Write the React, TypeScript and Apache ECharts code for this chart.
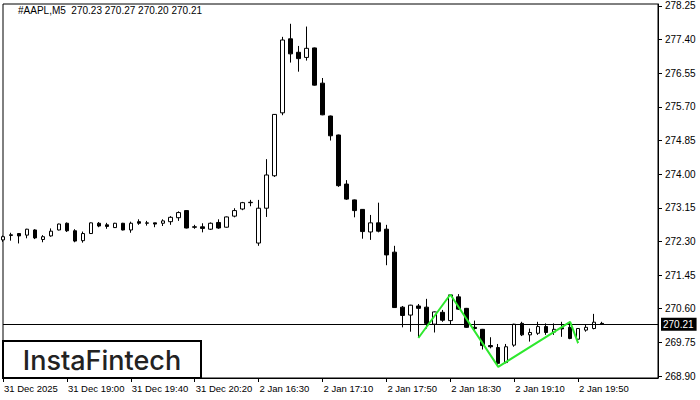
import React, { useEffect, useRef } from "react";
import * as echarts from "echarts";

const opens = [
  272.34, 272.45, 272.50, 272.46, 272.59, 272.35, 272.44, 272.59, 272.76, 272.57,
  272.32, 272.50, 272.76, 272.72, 272.65, 272.76, 272.59, 272.80, 272.76, 272.77,
  272.76, 272.80, 272.90, 273.08, 272.67, 272.67, 272.61, 272.78, 272.66, 272.94,
  273.12, 273.28, 272.26, 273.14, 273.96, 275.55, 277.42, 277.08, 276.95, 277.19,
  276.30, 275.47, 274.99, 273.75, 273.35, 273.11, 272.54, 272.77, 272.61, 272.03,
  270.64, 270.44, 270.67, 270.64, 270.21, 270.51, 270.30, 270.90, 270.61, 270.13,
  270.08, 269.67, 269.62, 269.24, 269.68, 270.23, 269.94, 269.98, 270.15, 270.01,
  270.12, 270.13, 269.83, 270.06, 270.10, 270.23,
];
const highs = [
  272.45, 272.52, 272.51, 272.62, 272.61, 272.46, 272.63, 272.75, 272.78, 272.61,
  272.55, 272.78, 272.79, 272.77, 272.77, 272.77, 272.80, 272.86, 272.82, 272.77,
  272.86, 272.94, 273.06, 273.09, 272.72, 272.76, 272.78, 272.86, 272.93, 273.14,
  273.30, 273.35, 273.35, 274.38, 275.52, 277.47, 277.80, 277.24, 277.73, 277.20,
  276.43, 275.48, 275.00, 273.85, 273.36, 273.12, 272.97, 273.28, 272.72, 272.19,
  270.67, 270.70, 270.72, 270.85, 270.53, 270.57, 270.97, 270.97, 270.62, 270.30,
  270.09, 269.88, 269.71, 269.71, 270.22, 270.27, 270.10, 270.27, 270.23, 270.23,
  270.27, 270.27, 270.11, 270.21, 270.47, 270.27,
];
const lows = [
  272.29, 272.32, 272.25, 272.38, 272.36, 272.28, 272.42, 272.58, 272.54, 272.28,
  272.27, 272.49, 272.66, 272.62, 272.64, 272.58, 272.52, 272.72, 272.70, 272.66,
  272.69, 272.72, 272.82, 272.63, 272.62, 272.53, 272.59, 272.62, 272.65, 272.91,
  273.09, 273.19, 272.19, 272.92, 273.93, 275.49, 276.82, 276.59, 276.87, 276.24,
  275.49, 274.85, 273.68, 273.35, 272.91, 272.37, 272.34, 272.53, 271.70, 270.62,
  270.13, 270.02, 269.86, 270.10, 270.00, 270.27, 270.19, 270.57, 270.12, 270.02,
  269.57, 269.60, 269.13, 269.22, 269.64, 269.91, 269.77, 269.94, 269.94, 269.94,
  269.89, 269.83, 269.73, 270.02, 270.08, 270.20,
];
const closes = [
  272.42, 272.47, 272.44, 272.61, 272.39, 272.42, 272.56, 272.74, 272.57, 272.31,
  272.50, 272.77, 272.69, 272.68, 272.76, 272.59, 272.76, 272.76, 272.77, 272.74,
  272.82, 272.91, 273.03, 272.64, 272.66, 272.63, 272.76, 272.64, 272.92, 273.08,
  273.28, 273.29, 273.14, 273.98, 275.51, 277.39, 277.04, 276.92, 277.18, 276.25,
  275.50, 274.97, 273.71, 273.37, 273.08, 272.55, 272.77, 272.56, 271.96, 270.63,
  270.43, 270.69, 270.61, 270.23, 270.52, 270.31, 270.95, 270.59, 270.13, 270.10,
  269.67, 269.64, 269.22, 269.64, 270.21, 269.94, 270.00, 270.15, 270.00, 270.08,
  270.09, 269.85, 270.10, 270.13, 270.26, 270.21,
];

const tickLabels = [
  "31 Dec 2025", "31 Dec 19:00", "31 Dec 19:40", "31 Dec 20:20", "2 Jan 16:30",
  "2 Jan 17:10", "2 Jan 17:50", "2 Jan 18:30", "2 Jan 19:10", "2 Jan 19:50",
];
const priceTicks = [
  268.9, 269.75, 270.6, 271.45, 272.3, 273.15, 274.0, 274.85, 275.7, 276.55, 277.4, 278.25,
];
const patternIdx = [52, 56, 62, 71, 72];
const patternVals = [269.86, 270.96, 269.13, 270.27, 269.73];
const lastPrice = 270.21;
const titleText = "#AAPL,M5  270.23 270.27 270.20 270.21";
const logoText = "InstaFintech";

function pad(n: number) {
  return String(n).padStart(2, "0");
}
function buildCategories(): string[] {
  const out: string[] = [];
  for (let i = 0; i < 32; i++) {
    const m = 18 * 60 + 20 + 5 * i;
    out.push(`31 Dec ${pad(Math.floor(m / 60))}:${pad(m % 60)}`);
  }
  for (let i = 0; i < 44; i++) {
    const m = 16 * 60 + 30 + 5 * i;
    out.push(`2 Jan ${pad(Math.floor(m / 60))}:${pad(m % 60)}`);
  }
  for (let i = 0; i < 7; i++) out.push("");
  return out;
}
const categories = buildCategories();

const showTick = (i: number) => i % 8 === 0 && i <= 72;

export default function App() {
  const ref = useRef<HTMLDivElement>(null);
  useEffect(() => {
    if (!ref.current) return;
    const chart = echarts.init(ref.current, null, { renderer: "svg" });
    chart.setOption({
      animation: false,
      backgroundColor: "#ffffff",
      textStyle: { fontFamily: "Liberation Sans" },
      grid: {
        left: 3,
        right: 42,
        top: 4,
        bottom: 22,
        show: true,
        borderColor: "#000",
        borderWidth: 1,
        backgroundColor: "transparent",
      },
      xAxis: {
        type: "category",
        data: categories,
        boundaryGap: false,
        axisLine: { show: true, lineStyle: { color: "#000", width: 1 } },
        axisTick: {
          show: true,
          interval: (i: number) => showTick(i),
          length: 4,
          lineStyle: { color: "#000" },
        },
        axisLabel: {
          interval: (i: number) => showTick(i),
          formatter: (_v: string, i: number) => tickLabels[i / 8] ?? "",
          align: "left",
          fontSize: 9.5,
          color: "#000",
          margin: 5,
          padding: [0, 0, 0, 1],
        },
        splitLine: { show: false },
      },
      yAxis: {
        type: "value",
        position: "right",
        min: 268.85,
        max: 278.3,
        axisLine: { show: true, lineStyle: { color: "#000", width: 1 } },
        axisTick: {
          show: true,
          length: 4,
          customValues: priceTicks,
          lineStyle: { color: "#000" },
        },
        axisLabel: {
          customValues: priceTicks,
          formatter: (v: number) => v.toFixed(2),
          fontSize: 10,
          color: "#000",
          margin: 7,
        },
        splitLine: { show: false },
      },
      series: [
        {
          type: "candlestick",
          data: opens.map((o, i) => [o, closes[i], lows[i], highs[i]]),
          barWidth: 4,
          clip: true,
          itemStyle: {
            color: "#ffffff",
            color0: "#000000",
            borderColor: "#000000",
            borderColor0: "#000000",
            borderColorDoji: "#000000",
            borderWidth: 1,
          },
          markLine: {
            silent: true,
            symbol: ["none", "none"],
            data: [{ yAxis: lastPrice }],
            lineStyle: { color: "#000", width: 1, type: "solid" },
            label: {
              show: true,
              position: "end",
              formatter: lastPrice.toFixed(2),
              backgroundColor: "#000",
              color: "#fff",
              fontSize: 10,
              padding: [2, 3, 1, 2],
              distance: 3,
            },
          },
        },
        {
          type: "line",
          data: patternIdx.map((x, i) => [x, patternVals[i]]),
          symbol: "none",
          lineStyle: { color: "#2ee82e", width: 2 },
          z: 5,
        },
      ],
      graphic: [
        {
          type: "text",
          left: 18,
          top: 5,
          style: {
            text: titleText,
            fontSize: 10,
            fontFamily: "Liberation Sans",
            fill: "#000",
          },
        },
        {
          type: "rect",
          shape: { x: 3, y: 341, width: 198, height: 37 },
          style: { fill: "#fff", stroke: "#000", lineWidth: 2 },
          z: 100,
        },
        {
          type: "text",
          x: 102,
          y: 360,
          style: {
            text: logoText,
            fontSize: 27,
            fontFamily: "Inter",
            fontWeight: 500,
            fill: "#222",
            align: "center",
            verticalAlign: "middle",
          },
          z: 101,
        },
      ],
    });
    return () => chart.dispose();
  }, []);
  return (
    <div
      ref={ref}
      style={{ position: "fixed", left: 0, top: 0, width: 700, height: 400 }}
    />
  );
}
